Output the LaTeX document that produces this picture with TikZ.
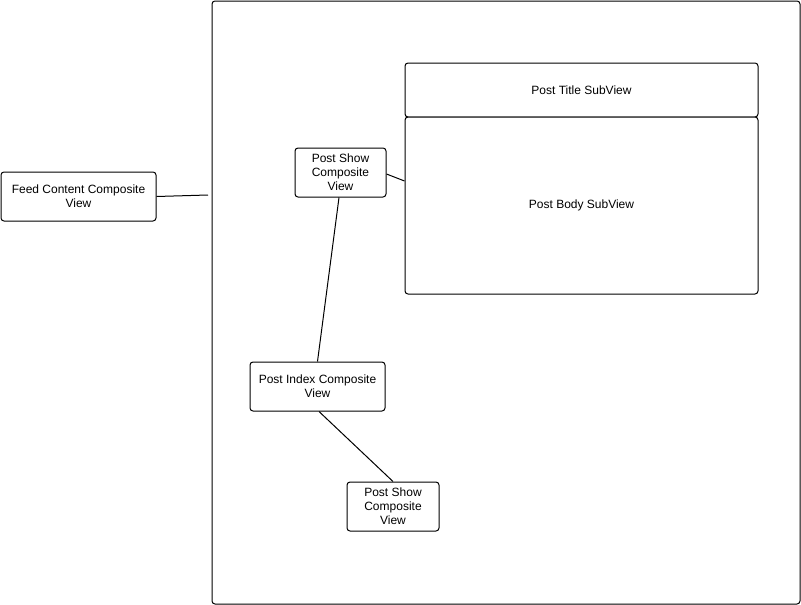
\documentclass[tikz,border=0pt]{standalone}
\usepackage{fontspec}
\setmainfont{Liberation Sans}
\begin{document}
\begin{tikzpicture}[x=1pt,y=-1pt,
  box/.style={draw=black,line width=1pt,rounded corners=3pt,fill=white,
    font=\fontsize{12}{14}\selectfont,align=center,inner sep=0pt,
    minimum width=#1},
  box/.default=0pt,
  conn/.style={draw=black,line width=1pt}]
\useasboundingbox (0,0) rectangle (801,605);
% outer container
\node[box,minimum width=588pt,minimum height=603pt] (outer) at (506,302.5) {};
% feed node
\node[box=155pt,minimum height=49pt] (feed) at (78.5,196.5) {Feed Content Composite\\View};
\coordinate (feedEnd) at (208,195);
\draw[conn] (feed.east) -- (feedEnd);
% title and body
\node[box=353pt,minimum height=54pt] (title) at (581.5,90) {Post Title SubView};
\node[box=353pt,minimum height=177pt] (body) at (581.5,205.5) {Post Body SubView};
% post show top
\node[box=91pt,minimum height=49pt] (show1) at (340.5,172.5) {Post Show\\Composite\\View};
% post index
\node[box=135pt,minimum height=49pt] (index) at (317.5,386.5) {Post Index Composite\\View};
% post show bottom
\node[box=92pt,minimum height=49pt] (show2) at (393,506.5) {Post Show\\Composite\\View};
% connectors
\draw[conn] ([yshift=-1.5pt]show1.east) -- ([yshift=24.5pt]body.west);
\draw[conn] ([xshift=-1.5pt]show1.south) -- (index.north);
\draw[conn] ([xshift=1.5pt]index.south) -- (show2.north);
\end{tikzpicture}
\end{document}
